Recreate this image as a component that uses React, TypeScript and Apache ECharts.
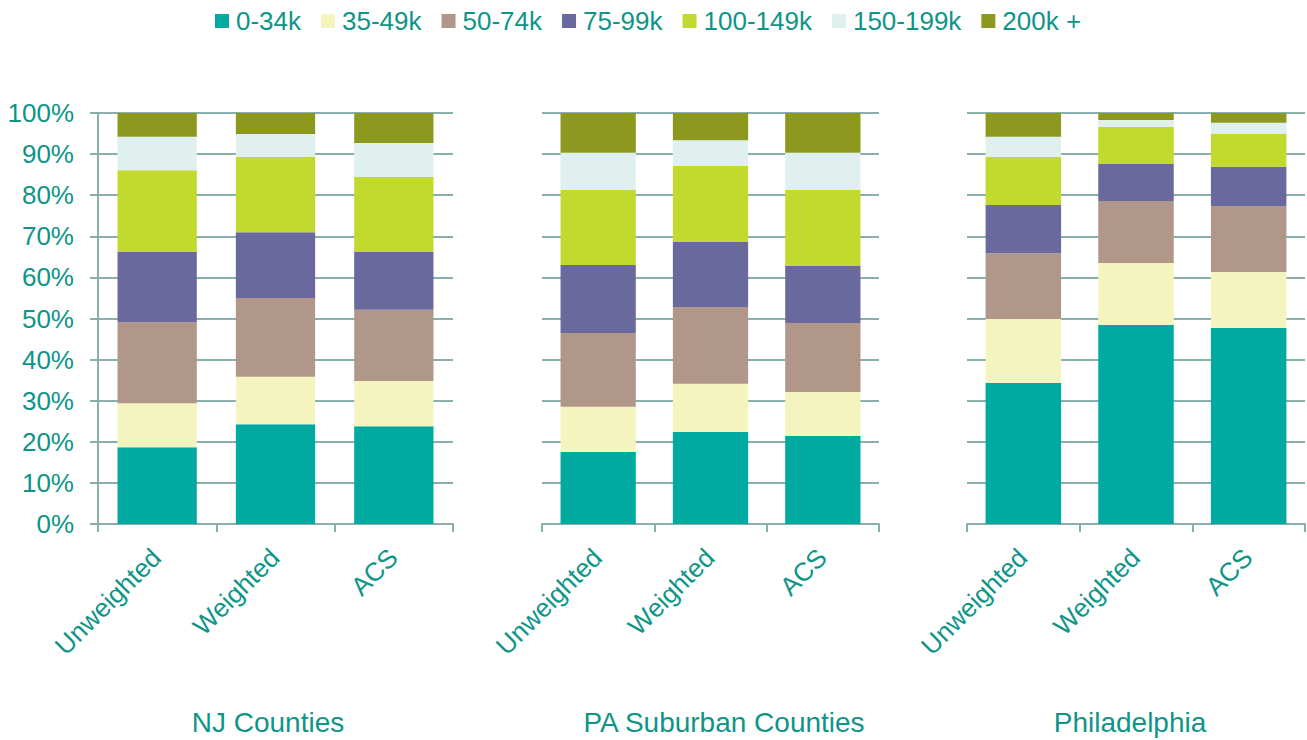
import React, { useEffect, useRef } from "react";
import * as echarts from "echarts";

const categories = ["Unweighted", "Weighted", "ACS"];
const bands = ["0-34k", "35-49k", "50-74k", "75-99k", "100-149k", "150-199k", "200k +"];
const bandColors = ["#00AAA0", "#F4F4BE", "#B09789", "#69699E", "#C2D92E", "#DFF0EF", "#8D981E"];
const regionTitles = ["NJ Counties", "PA Suburban Counties", "Philadelphia"];
const yTicks = [0, 10, 20, 30, 40, 50, 60, 70, 80, 90, 100];

// each row: one income band, values for Unweighted / Weighted / ACS (percent)
const njCounties = [
  [18.7, 24.3, 23.8],
  [10.7, 11.5, 11.0],
  [19.7, 19.2, 17.3],
  [17.1, 16.0, 14.1],
  [19.9, 18.3, 18.2],
  [8.1, 5.6, 8.3],
  [5.8, 5.1, 7.3],
];
const paSuburban = [
  [17.5, 22.4, 21.4],
  [11.0, 11.7, 10.7],
  [18.0, 18.7, 16.8],
  [16.5, 15.8, 13.9],
  [18.3, 18.5, 18.5],
  [9.0, 6.3, 9.0],
  [9.7, 6.6, 9.7],
];
const philadelphia = [
  [34.3, 48.4, 47.7],
  [15.6, 15.1, 13.6],
  [16.0, 15.1, 16.1],
  [11.7, 9.0, 9.5],
  [11.7, 9.0, 8.0],
  [4.9, 1.7, 2.7],
  [5.8, 1.7, 2.4],
];

const regions = [njCounties, paSuburban, philadelphia];

const TEXT = "#0E9588";
const LINE = "#88AFAB";
const FONT = "Arial, Liberation Sans, sans-serif";

const grids = [
  { left: 98, right: 1307 - 453, top: 113, bottom: 740 - 524 },
  { left: 542, right: 1307 - 879, top: 113, bottom: 740 - 524 },
  { left: 967, right: 1307 - 1305, top: 113, bottom: 740 - 524 },
];
const titleX = [268, 724, 1130];

export default function App() {
  const ref = useRef<HTMLDivElement>(null);
  useEffect(() => {
    if (!ref.current) return;
    const chart = echarts.init(ref.current, null, { renderer: "svg" });
    const xAxis = grids.map((_, i) => ({
      type: "category",
      gridIndex: i,
      data: categories,
      boundaryGap: true,
      axisLine: { show: true, lineStyle: { color: LINE, width: 2 } },
      axisTick: { show: true, length: 8, lineStyle: { color: LINE, width: 2 } },
      axisLabel: {
        rotate: 45,
        margin: 10,
        verticalAlign: "top",
        padding: [0, 14, 0, 0],
        color: TEXT,
        fontSize: 26,
        fontFamily: FONT,
        interval: 0,
      },
    }));
    const yAxis = grids.map((_, i) => ({
      type: "value",
      gridIndex: i,
      min: yTicks[0],
      max: yTicks[yTicks.length - 1],
      interval: 10,
      axisLine: { show: i === 0, lineStyle: { color: LINE, width: 2 } },
      axisTick: { show: i === 0, length: 8, lineStyle: { color: LINE, width: 2 } },
      axisLabel: {
        show: i === 0,
        formatter: "{value}%",
        color: TEXT,
        fontSize: 26,
        fontFamily: FONT,
        margin: 24,
      },
      splitLine: { show: true, lineStyle: { color: LINE, width: 2 } },
    }));
    const series: any[] = [];
    regions.forEach((region, ri) => {
      bands.forEach((band, bi) => {
        series.push({
          type: "bar",
          name: band,
          xAxisIndex: ri,
          yAxisIndex: ri,
          stack: "s" + ri,
          barWidth: "67%",
          data: region[bi],
          itemStyle: { color: bandColors[bi] },
        });
      });
    });
    chart.setOption({
      animation: false,
      color: bandColors,
      textStyle: { fontFamily: FONT },
      legend: {
        data: bands,
        top: 3,
        left: 210,
        icon: "rect",
        itemWidth: 14,
        itemHeight: 14,
        itemGap: 20,
        textStyle: { color: TEXT, fontSize: 26, fontFamily: FONT, padding: [0, 0, 0, 2] },
      },
      grid: grids,
      xAxis,
      yAxis,
      series,
      graphic: regionTitles.map((t, i) => ({
        type: "text",
        x: titleX[i],
        y: 722,
        style: {
          text: t,
          fill: TEXT,
          fontSize: 28,
          fontFamily: FONT,
          textAlign: "center",
          textVerticalAlign: "middle",
        },
      })),
    });
    return () => chart.dispose();
  }, []);
  return (
    <div
      ref={ref}
      style={{ position: "absolute", left: 0, top: 0, width: 1307, height: 740 }}
    />
  );
}
